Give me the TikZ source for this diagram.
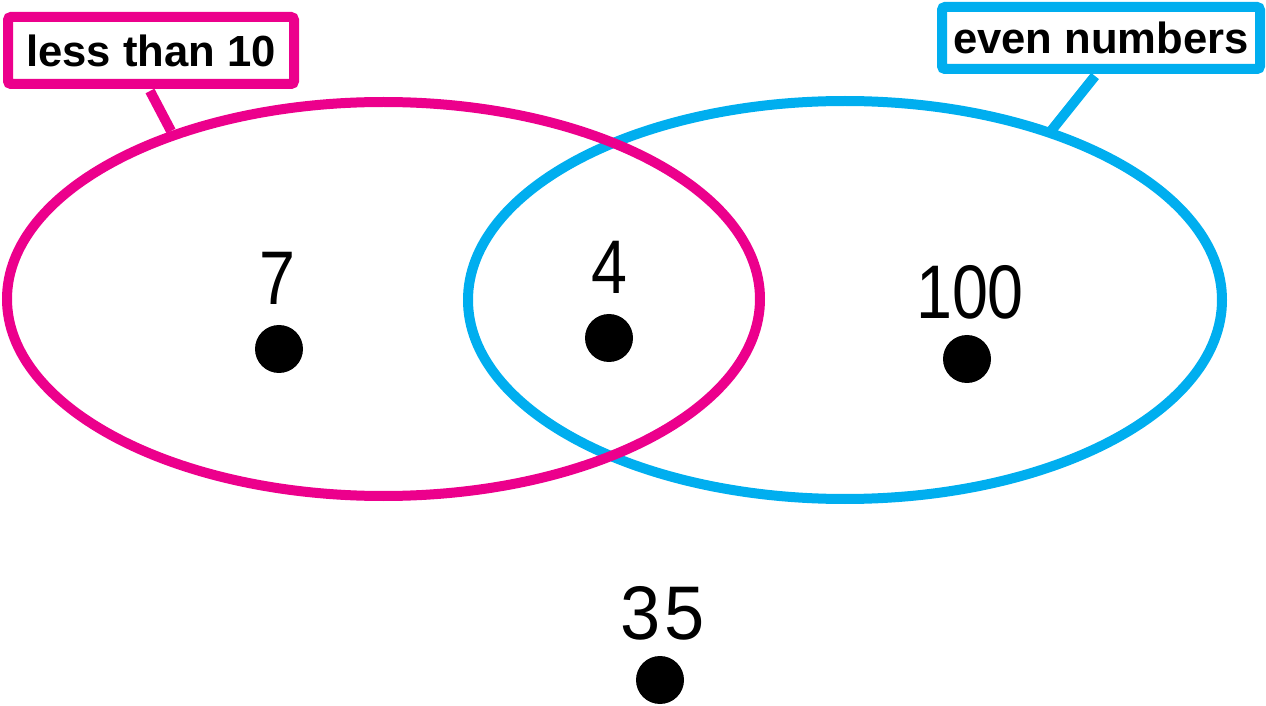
\documentclass[tikz,border=0pt]{standalone}
\usepackage{fontspec}
\setmainfont{Liberation Sans}
\usetikzlibrary{shapes.geometric}
\definecolor{vpink}{HTML}{EC008C}
\definecolor{vblue}{HTML}{00AEEF}
\tikzset{
  setring/.style={draw, ellipse, line width=5pt, inner sep=0pt},
  labelbox/.style={line width=5pt, fill=white, rounded corners=1.5pt, inner sep=0pt,
     text=black, font=\fontsize{21.8}{24}\selectfont\bfseries},
  numtext/.style={inner sep=0pt, font=\fontsize{38}{40}\selectfont},
  elemdot/.style={circle, fill=black, minimum size=24pt, inner sep=0pt},
  tie/.style={line width=5pt}
}
\newcommand{\numlbl}[1]{\scalebox{0.85}[1]{#1}}
\begin{document}
\begin{tikzpicture}[x=0.5pt, y=-0.5pt]
\useasboundingbox (0,0) rectangle (1266,706);
% ellipses (blue under pink)
\node[setring, draw=vblue, minimum width=377pt, minimum height=199pt] (even) at (845,300) {};
\node[setring, draw=vpink, minimum width=376.5pt, minimum height=197pt] (less) at (383.5,299) {};
% labels
\node[labelbox, draw=vpink, minimum width=143pt, minimum height=33.5pt] (lesslbl) at (151,50.5) {less than 10};
\node[labelbox, draw=vblue, minimum width=159pt, minimum height=31pt] (evenlbl) at (1101,38) {even numbers};
\coordinate (lesstie) at (171,131);
\coordinate (eventie) at (1051,131);
\draw[tie, vpink] ([xshift=-0.5pt]lesslbl.south) ++(0,2) -- (lesstie);
\draw[tie, vblue] ([xshift=-3pt]evenlbl.south) ++(0,2) -- (eventie);
% elements
\node[numtext] (n7) at (277,278) {\numlbl{7}};
\node[elemdot] (d7) at (279,349) {};
\node[numtext] (n4) at (609,267) {\numlbl{4}};
\node[elemdot] (d4) at (609,338) {};
\node[numtext] (n100) at (970,292) {\numlbl{100}};
\node[elemdot] (d100) at (967,359) {};
\node[numtext] (n35) at (663,613) {\scalebox{0.95}[1]{3\kern2pt5}};
\node[elemdot] (d35) at (660,680) {};
\end{tikzpicture}
\end{document}
